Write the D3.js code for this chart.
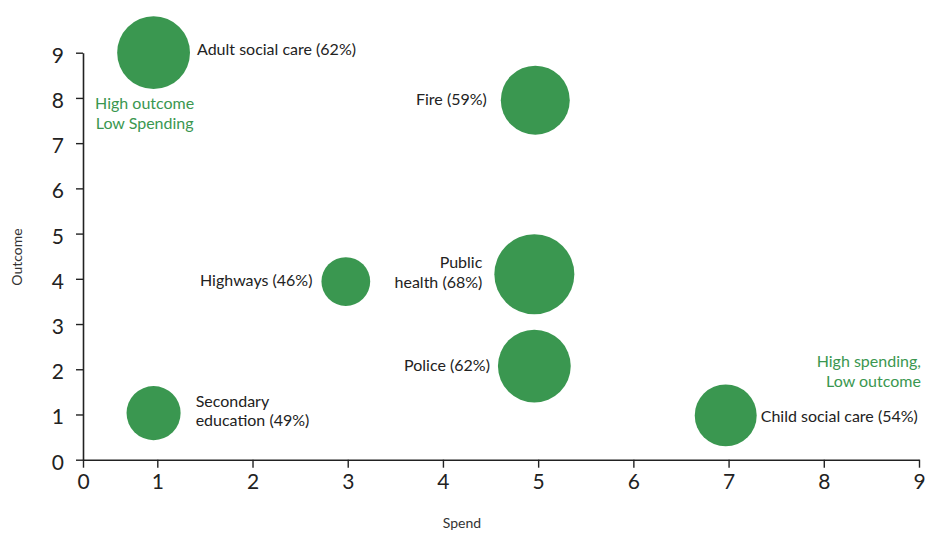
<!DOCTYPE html>
<html>
<head>
<meta charset="utf-8">
<script src="https://cdn.jsdelivr.net/npm/d3@7"></script>
<style>
  html, body { margin: 0; padding: 0; background: #fff; }
  svg { display: block; font-family: "Lato", "Noto Sans", sans-serif; }
</style>
</head>
<body>
<svg id="chart" width="927" height="536"></svg>
<script>
// Service areas: spend rank (x), outcome rank (y), share of satisfied residents (size)
const services = ["Adult social care", "Fire", "Public health", "Highways", "Police", "Secondary education", "Child social care"];
const spend    = [0.95, 4.97, 4.96, 2.98, 4.96, 0.95, 6.97];
const outcome  = [9.0, 7.95, 4.1, 3.94, 2.07, 1.03, 0.98];
const share    = [62, 59, 68, 46, 62, 49, 54];
// label text lines
const labelLines = [["Adult social care (62%)"], ["Fire (59%)"], ["Public", "health (68%)"], ["Highways (46%)"], ["Police (62%)"], ["Secondary", "education (49%)"], ["Child social care (54%)"]];

const xTicks = [0, 1, 2, 3, 4, 5, 6, 7, 8, 9];
const yTicks = [0, 1, 2, 3, 4, 5, 6, 7, 8, 9];

// label placement: side of the bubble, gap from its edge, vertical nudge (px)
const labelPlacement = [
  { side: "right", gap: 7,  dy: -3 },
  { side: "left",  gap: 14, dy: -1 },
  { side: "left",  gap: 12, dy: -2 },
  { side: "left",  gap: 9,  dy: -1 },
  { side: "left",  gap: 8,  dy: -1 },
  { side: "right", gap: 15, dy: -2 },
  { side: "right", gap: 4,  dy: 1 }
];

const quadrantNotes = [
  { lines: ["High outcome", "Low Spending"], x: 0.83, y: 7.87, anchor: "middle" },
  { lines: ["High spending,", "Low outcome"], x: 9.02, y: 2.17, anchor: "end" }
];

const svg = d3.select("#chart");
const green = "#3a9750";
const ink = "#222";

// the first unit is compressed so the origin sits at the axis corner
const x = d3.scaleLinear().domain([0, 1, 9]).range([83, 157.3, 919]);
const y = d3.scaleLinear().domain([0, 9]).range([459.7, 52.7]);
const r = d3.scaleRadial().domain([33, 68]).range([0, 40]);

const data = services.map((s, i) => ({
  name: s, spend: spend[i], outcome: outcome[i], share: share[i],
  lines: labelLines[i], ...labelPlacement[i]
}));

// axes
const xAxis = svg.append("g")
  .attr("transform", `translate(0,${y(0)})`)
  .call(d3.axisBottom(x).tickValues(xTicks).tickFormat(d3.format("d")).tickSize(8).tickPadding(6).tickSizeOuter(0));
const yAxis = svg.append("g")
  .attr("transform", `translate(${x(0)},0)`)
  .call(d3.axisLeft(y).tickValues(yTicks).tickFormat(d3.format("d")).tickSize(7).tickPadding(12).tickSizeOuter(0));

[xAxis, yAxis].forEach(g => {
  g.select(".domain").attr("stroke", ink).attr("stroke-width", 1.6);
  g.selectAll(".tick line").attr("stroke", ink).attr("stroke-width", 1.4);
  g.selectAll(".tick text").attr("fill", ink).attr("font-size", 21).attr("font-family", "Lato, sans-serif");
});
yAxis.selectAll(".tick text").attr("dy", "0.45em");

// axis titles
svg.append("text")
  .attr("x", 462).attr("y", 528)
  .attr("text-anchor", "middle")
  .attr("font-size", 14).attr("fill", "#333")
  .text("Spend");
svg.append("text")
  .attr("transform", "translate(22,257) rotate(-90)")
  .attr("text-anchor", "middle")
  .attr("font-size", 14).attr("fill", "#333")
  .text("Outcome");

// bubbles
svg.append("g").selectAll("circle")
  .data(data)
  .join("circle")
  .attr("cx", d => x(d.spend))
  .attr("cy", d => y(d.outcome))
  .attr("r", d => r(d.share))
  .attr("fill", green);

// bubble labels
const lineH = 19.5;
const labelX = d => x(d.spend) + (d.side === "right" ? 1 : -1) * (r(d.share) + d.gap);
const labels = svg.append("g").selectAll("text")
  .data(data)
  .join("text")
  .attr("font-size", 16)
  .attr("fill", ink)
  .attr("text-anchor", d => d.side === "right" ? "start" : "end")
  .attr("x", labelX)
  .attr("y", d => y(d.outcome) + d.dy - (d.lines.length - 1) * lineH / 2);
labels.selectAll("tspan")
  .data(d => d.lines.map((t, i) => ({ t, i, d })))
  .join("tspan")
  .attr("x", l => labelX(l.d))
  .attr("dy", l => l.i === 0 ? "0.35em" : lineH)
  .text(l => l.t);

// quadrant notes
quadrantNotes.forEach(n => {
  const t = svg.append("text")
    .attr("font-size", 16)
    .attr("fill", green)
    .attr("text-anchor", n.anchor)
    .attr("y", y(n.y));
  n.lines.forEach((line, i) => {
    t.append("tspan")
      .attr("x", x(n.x))
      .attr("dy", i === 0 ? "0.35em" : lineH)
      .text(line);
  });
});
</script>
</body>
</html>
